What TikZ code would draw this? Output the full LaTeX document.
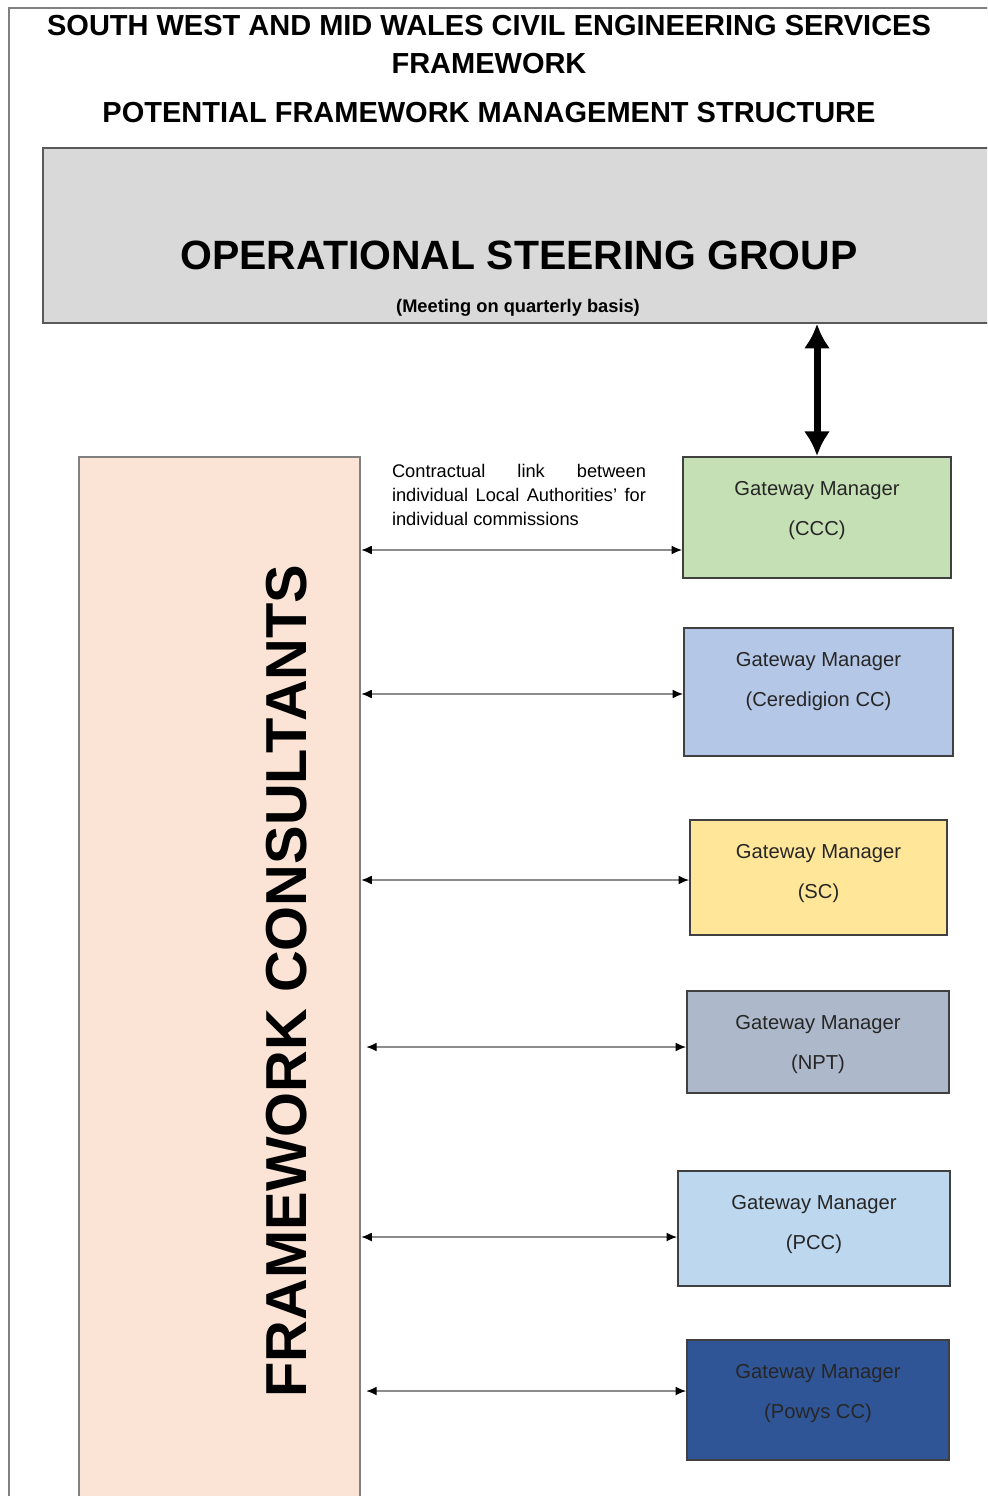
\documentclass[tikz,border=0pt]{standalone}
\usepackage{fontspec}
\setmainfont{Liberation Sans}
\usetikzlibrary{positioning, arrows.meta}

\definecolor{osggrey}{HTML}{D9D9D9}
\definecolor{consultpeach}{HTML}{FBE4D6}
\definecolor{gwgreen}{HTML}{C5E0B4}
\definecolor{gwblue}{HTML}{B4C7E7}
\definecolor{gwyellow}{HTML}{FFE699}
\definecolor{gwslate}{HTML}{ADB9CA}
\definecolor{gwsky}{HTML}{BDD7EE}
\definecolor{gwnavy}{HTML}{2F5597}

\begin{document}
\begin{tikzpicture}[x=0.02cm, y=-0.02cm, >=Latex, node distance=0.5cm,
        title/.style = {font=\fontsize{16.5}{18}\selectfont\bfseries, inner sep=0},
        group/.style = {draw=black!65, line width=0.9pt, fill=osggrey, minimum width=19.14cm, minimum height=3.5cm, inner sep=0},
        consult/.style = {draw=black!50, line width=1.4pt, fill=consultpeach, minimum width=5.62cm, minimum height=21.26cm, inner sep=0},
        gateway/.style = {draw=black!75, line width=1.1pt, inner sep=0},
        gwtext/.style = {align=center, inner sep=0, font=\fontsize{11.5}{22.7}\selectfont, text=black!85},
        link/.style = {draw=black!45, line width=0.7pt, {Latex[black, length=6pt, width=5pt]}-{Latex[black, length=6pt, width=5pt]}},
        updown/.style = {line width=4pt, {Latex[length=14pt, width=15pt]}-{Latex[length=14pt, width=15pt]}},
        ]
        \useasboundingbox (0,0) rectangle (987,1496);
        \clip (0,0) rectangle (987,1496);

        % page frame
        \draw [draw=black!50, line width=1.1pt] (9,1510) -- (9,8) -- (1000,8);

        \node [title] (title1) at (489,26) {SOUTH WEST AND MID WALES CIVIL ENGINEERING SERVICES};
        \node [title] (title2) at (489,64) {FRAMEWORK};
        \node [title] (title3) at (489,113) {POTENTIAL FRAMEWORK MANAGEMENT STRUCTURE};

        \node [group] (osg) at (521.5,235.5) {};
        \node [font=\fontsize{23.3}{26}\selectfont\bfseries, inner sep=0] (osgtext) at (519,255) {OPERATIONAL STEERING GROUP};
        \node [font=\fontsize{10.4}{12}\selectfont\bfseries, inner sep=0] (meeting) at (518,308) {(Meeting on quarterly basis)};

        \node [consult] (fc) at (219.5,988.5) {};
        \node [rotate=90, font=\fontsize{32.9}{34}\selectfont\bfseries, inner sep=0] (fctext) at (287,981) {FRAMEWORK CONSULTANTS};

        \node [gateway, fill=gwgreen, minimum width=5.36cm, minimum height=2.42cm] (g1) at (817,517.5) {};
        \node [gateway, fill=gwblue, minimum width=5.38cm, minimum height=2.56cm] (g2) at (818.5,692) {};
        \node [gateway, fill=gwyellow, minimum width=5.14cm, minimum height=2.3cm] (g3) at (818.5,877.5) {};
        \node [gateway, fill=gwslate, minimum width=5.24cm, minimum height=2.04cm] (g4) at (818,1042) {};
        \node [gateway, fill=gwsky, minimum width=5.44cm, minimum height=2.3cm] (g5) at (814,1228.5) {};
        \node [gateway, fill=gwnavy, minimum width=5.24cm, minimum height=2.4cm] (g6) at (818,1400) {};

        \node [gwtext, below=of g1.north] (t1) {Gateway Manager\\(CCC)};
        \node [gwtext, below=of g2.north] (t2) {Gateway Manager\\(Ceredigion CC)};
        \node [gwtext, below=of g3.north] (t3) {Gateway Manager\\(SC)};
        \node [gwtext, below=of g4.north] (t4) {Gateway Manager\\(NPT)};
        \node [gwtext, below=of g5.north] (t5) {Gateway Manager\\(PCC)};
        \node [gwtext, below=of g6.north] (t6) {Gateway Manager\\(Powys CC)};

        \node [text width=5.08cm, align=justify, inner sep=0, font=\fontsize{10.4}{13.6}\selectfont] (note) at (519,495)
            {Contractual link between\linebreak individual Local Authorities' for\linebreak individual commissions};

        \draw [updown] (g1.north |- osg.south) -- (g1.north);

        \draw [link] (fc.east |- 0,550) -- (g1.west |- 0,550);
        \draw [link] (fc.east |- 0,694) -- (g2.west |- 0,694);
        \draw [link] (fc.east |- 0,880) -- (g3.west |- 0,880);
        \draw [link] ([xshift=0.1cm]fc.east |- 0,1047) -- (g4.west |- 0,1047);
        \draw [link] (fc.east |- 0,1237) -- (g5.west |- 0,1237);
        \draw [link] ([xshift=0.1cm]fc.east |- 0,1391) -- (g6.west |- 0,1391);

    \end{tikzpicture}
\end{document}
